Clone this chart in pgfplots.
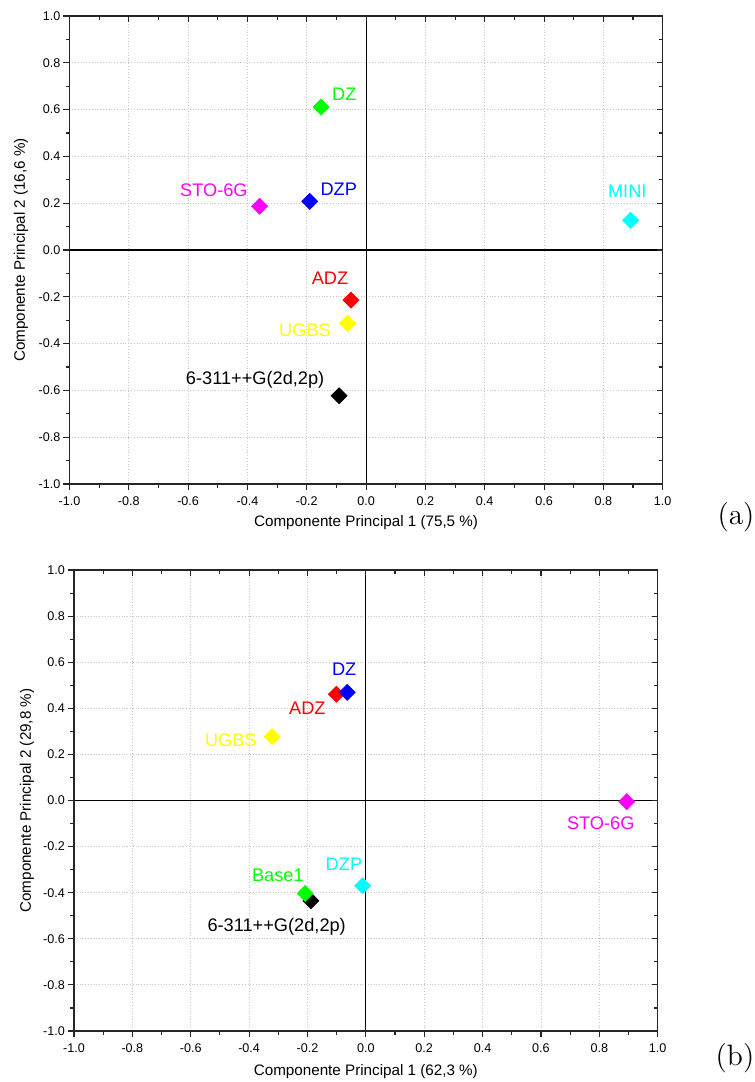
\documentclass[border=0pt]{standalone}
\usepackage{fontspec}
\setsansfont{Liberation Sans}
\usepackage{pgfplots}
\pgfplotsset{compat=1.18}

\definecolor{cgreen}{RGB}{0,255,0}
\definecolor{cblue}{RGB}{0,0,255}
\definecolor{cred}{RGB}{255,0,0}
\definecolor{cmag}{RGB}{255,0,255}
\definecolor{ccyan}{RGB}{0,255,255}
\definecolor{cyel}{RGB}{255,255,0}
\definecolor{cblk}{RGB}{0,0,0}

\tikzset{lab/.style={font=\sffamily\fontsize{9.1}{11}\selectfont, text=#1, inner sep=0pt}}

\pgfplotsset{
  pcabase/.style={
    scale only axis,
    xmin=-1, xmax=1, ymin=-1, ymax=1,
    xtick={-1,-0.8,-0.6,-0.4,-0.2,0,0.2,0.4,0.6,0.8,1},
    ytick={-1,-0.8,-0.6,-0.4,-0.2,0,0.2,0.4,0.6,0.8,1},
    minor x tick num=1, minor y tick num=1,
    major tick length=3pt, minor tick length=1.8pt,
    axis line style={line width=0.65pt, black!85},
    every tick/.style={black!85, line width=0.55pt},
  },
  pcamain/.style={
    pcabase,
    xtick pos=left, ytick pos=left, tick align=outside,
    grid=major,
    major grid style={densely dotted, gray!45, line width=0.45pt},
    tick label style={font=\sffamily\fontsize{6.3}{7}\selectfont, black},
    yticklabel style={xshift=2pt},
    /pgf/number format/.cd, fixed, fixed zerofill, precision=1, assume math mode=true,
    /pgfplots/.cd,
    label style={font=\sffamily\fontsize{7.6}{9}\selectfont},
    extra x ticks={0}, extra y ticks={0},
    extra x tick labels={,}, extra y tick labels={,},
    extra tick style={grid=major, major grid style={solid, black, line width=0.55pt}},
  },
  pcaover/.style={
    pcabase,
    xtick pos=right, ytick pos=right, tick align=inside,
    xticklabels={,,,,,,,,,,}, yticklabels={,,,,,,,,,,},
  },
  pcapt/.style={only marks, mark=square*, mark size=2.8pt, mark options={rotate=45, solid, fill=#1, draw=#1}},
}

\begin{document}
\begin{tikzpicture}
\useasboundingbox (0,0) rectangle (377.5pt,-541pt);

% ---------------- (a) ----------------
\begin{axis}[pcamain, at={(34.75pt,-8pt)}, anchor=north west, width=296.6pt, height=234pt,
  xlabel={Componente Principal 1 (75,5 \%)}, ylabel={Componente Principal 2 (16,6 \%)},
  xlabel style={at={(axis description cs:0.5,-0.0833)}, anchor=center},
  ylabel style={at={(axis description cs:-0.0818,0.5)}, anchor=center}]
\addplot[pcapt=cgreen] coordinates {(-0.152,0.611)};
\addplot[pcapt=cmag] coordinates {(-0.359,0.187)};
\addplot[pcapt=cblue] coordinates {(-0.190,0.208)};
\addplot[pcapt=ccyan] coordinates {(0.892,0.127)};
\addplot[pcapt=cred] coordinates {(-0.051,-0.214)};
\addplot[pcapt=cyel] coordinates {(-0.062,-0.313)};
\addplot[pcapt=cblk] coordinates {(-0.091,-0.623)};
\node[lab=cgreen, shift={(11.65pt,6.5pt)}] at (axis cs:-0.152,0.611) {DZ};
\node[lab=cmag, shift={(-22.85pt,8.15pt)}] at (axis cs:-0.359,0.187) {STO-6G};
\node[lab=cblue, shift={(14.5pt,6.15pt)}] at (axis cs:-0.190,0.208) {DZP};
\node[lab=ccyan, shift={(-1.7pt,14.3pt)}] at (axis cs:0.892,0.127) {MINI};
\node[lab=cred, shift={(-10.5pt,11.15pt)}] at (axis cs:-0.051,-0.214) {ADZ};
\node[lab=cyel, shift={(-21.35pt,-3.35pt)}] at (axis cs:-0.062,-0.313) {UGBS};
\node[lab=cblk, shift={(-42pt,7.85pt)}] at (axis cs:-0.091,-0.623) {6-311++G(2d,2p)};
\end{axis}
\begin{axis}[pcaover, at={(34.75pt,-8pt)}, anchor=north west, width=296.6pt, height=234pt]
\end{axis}
\node[font=\fontsize{14.75}{17}\selectfont] at (368pt,-258.5pt) {(a)};

% ---------------- (b) ----------------
\begin{axis}[pcamain, at={(37pt,-285pt)}, anchor=north west, width=291.85pt, height=230.5pt,
  xlabel={Componente Principal 1 (62,3 \%)}, ylabel={Componente Principal 2 (29,8 \%)},
  xlabel style={at={(axis description cs:0.5,-0.0883)}, anchor=center},
  ylabel style={at={(axis description cs:-0.0805,0.5)}, anchor=center}]
\addplot[pcapt=cred] coordinates {(-0.101,0.461)};
\addplot[pcapt=cblue] coordinates {(-0.064,0.469)};
\addplot[pcapt=cyel] coordinates {(-0.321,0.277)};
\addplot[pcapt=cmag] coordinates {(0.894,-0.005)};
\addplot[pcapt=cblk] coordinates {(-0.188,-0.435)};
\addplot[pcapt=cgreen] coordinates {(-0.208,-0.403)};
\addplot[pcapt=ccyan] coordinates {(-0.011,-0.370)};
\node[lab=cblue, shift={(-1.5pt,11.65pt)}] at (axis cs:-0.064,0.469) {DZ};
\node[lab=cred, shift={(-14.5pt,-7pt)}] at (axis cs:-0.101,0.461) {ADZ};
\node[lab=cyel, shift={(-20.65pt,-1.65pt)}] at (axis cs:-0.321,0.277) {UGBS};
\node[lab=cmag, shift={(-13pt,-10.8pt)}] at (axis cs:0.894,-0.005) {STO-6G};
\node[lab=cgreen, shift={(-13.65pt,9.15pt)}] at (axis cs:-0.208,-0.403) {Base1};
\node[lab=cblk, shift={(-17.15pt,-13pt)}] at (axis cs:-0.188,-0.435) {6-311++G(2d,2p)};
\node[lab=ccyan, shift={(-9.35pt,10.85pt)}] at (axis cs:-0.011,-0.370) {DZP};
\end{axis}
\begin{axis}[pcaover, at={(37pt,-285pt)}, anchor=north west, width=291.85pt, height=230.5pt]
\end{axis}
\node[font=\fontsize{14.75}{17}\selectfont] at (367.5pt,-529pt) {(b)};
\end{tikzpicture}
\end{document}
